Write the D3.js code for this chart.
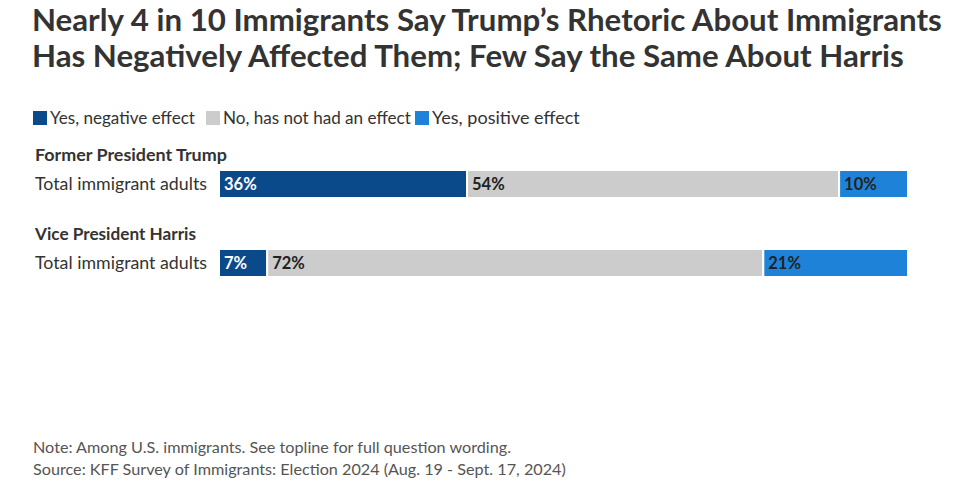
<!DOCTYPE html>
<html>
<head>
<meta charset="utf-8">
<script src="https://cdn.jsdelivr.net/npm/d3@7"></script>
<style>
  html, body { margin: 0; padding: 0; background: #fff; }
  svg { display: block; font-family: Lato, "Noto Sans", sans-serif; }
</style>
</head>
<body>
<svg id="chart" width="960" height="490"></svg>
<script>
const titleLines = ["Nearly 4 in 10 Immigrants Say Trump\u2019s Rhetoric About Immigrants",
                    "Has Negatively Affected Them; Few Say the Same About Harris"];
const seriesNames = ["Yes, negative effect", "No, has not had an effect", "Yes, positive effect"];
const seriesColors = ["#0b4a8a", "#cccccc", "#1e83d8"];
const labelColors = ["#ffffff", "#222222", "#222222"];
const groups = ["Former President Trump", "Vice President Harris"];
const rowLabels = ["Total immigrant adults", "Total immigrant adults"];
const negative = [36, 7];
const noEffect = [54, 72];
const positive = [10, 21];
const notes = ["Note: Among U.S. immigrants. See topline for full question wording.",
               "Source: KFF Survey of Immigrants: Election 2024 (Aug. 19 - Sept. 17, 2024)"];

const svg = d3.select("#chart");

// fit text to a target width by adjusting font size
function fitText(sel, target) {
  const node = sel.node();
  const fs = parseFloat(sel.attr("font-size"));
  const w = node.getComputedTextLength();
  sel.attr("font-size", (fs * target / w).toFixed(2));
  return sel;
}

// Title
const t1 = svg.append("text").attr("x", 32).attr("y", 31).attr("font-size", 28)
  .attr("font-weight", 700).attr("fill", "#333").text(titleLines[0]);
fitText(t1, 910);
svg.append("text").attr("x", 32).attr("y", 67).attr("font-size", t1.attr("font-size"))
  .attr("font-weight", 700).attr("fill", "#333").text(titleLines[1]);

// Legend
const legendX = [33, 206, 415];
const legendW = [145, 188, 148];
seriesNames.forEach((n, i) => {
  svg.append("rect").attr("x", legendX[i]).attr("y", 111).attr("width", 14).attr("height", 14)
    .attr("fill", seriesColors[i]);
  const lt = svg.append("text").attr("x", legendX[i] + 17).attr("y", 124).attr("font-size", 16)
    .attr("fill", "#333").text(n);
  fitText(lt, legendW[i]);
});

// Scales
const x = d3.scaleLinear().domain([0, 100]).range([219, 908]);
const y = d3.scaleBand().domain(groups).range([142, 300]).paddingInner(0);
const barH = 28;

const stackData = groups.map((g, i) => ({ group: g, label: rowLabels[i],
  vals: [negative[i], noEffect[i], positive[i]] }));

const groupW = [192, 161];
stackData.forEach((d, gi) => {
  const top = y(d.group);
  const barY = top + 28;
  // group header
  const gh = svg.append("text").attr("x", 35).attr("y", top + 19).attr("font-size", 16)
    .attr("font-weight", 700).attr("fill", "#333").text(d.group);
  fitText(gh, groupW[gi]);
  // row label
  const rl = svg.append("text").attr("x", 35).attr("y", barY + barH / 2 + 6)
    .attr("font-size", 16).attr("fill", "#333").text(d.label);
  fitText(rl, 172);
  let cum = 0;
  d.vals.forEach((v, si) => {
    const x0 = x(cum), x1 = x(cum + v);
    svg.append("rect").attr("x", x0).attr("y", barY).attr("width", x1 - x0).attr("height", barH)
      .attr("fill", seriesColors[si]).attr("stroke", "#fff").attr("stroke-width", 2);
    svg.append("text").attr("x", x0 + 5).attr("y", barY + barH / 2 + 6)
      .attr("font-size", 16.5).attr("font-weight", 700).attr("fill", labelColors[si])
      .text(v + "%");
    cum += v;
  });
});

// Notes (same size for both lines)
const noteW = [488, 522];
const noteSel = notes.map((n, i) => svg.append("text").attr("x", 33).attr("y", 453 + i * 22)
  .attr("font-size", 14.5).attr("fill", "#555").text(n));
const sizes = noteSel.map((s, i) => { fitText(s, noteW[i]); return parseFloat(s.attr("font-size")); });
const avg = d3.mean(sizes);
noteSel.forEach(s => s.attr("font-size", avg.toFixed(2)));
</script>
</body>
</html>
